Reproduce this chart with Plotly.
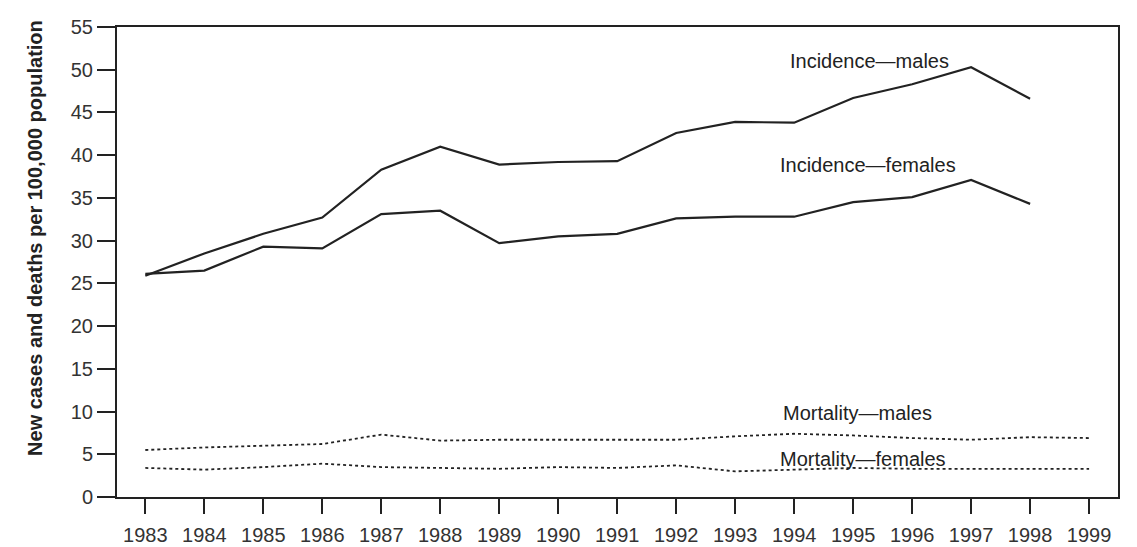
import plotly.graph_objects as go

# Annual rates per 100,000 population
years = list(range(1983, 2000))
incidence_males = [25.9, 28.5, 30.8, 32.7, 38.3, 41.0, 38.9, 39.2, 39.3, 42.6, 43.9, 43.8, 46.7, 48.3, 50.3, 46.6]
incidence_females = [26.1, 26.5, 29.3, 29.1, 33.1, 33.5, 29.7, 30.5, 30.8, 32.6, 32.8, 32.8, 34.5, 35.1, 37.1, 34.3]
mortality_males = [5.5, 5.8, 6.0, 6.2, 7.3, 6.6, 6.7, 6.7, 6.7, 6.7, 7.1, 7.4, 7.2, 6.9, 6.7, 7.0, 6.9]
mortality_females = [3.4, 3.2, 3.5, 3.9, 3.5, 3.4, 3.3, 3.5, 3.4, 3.7, 3.0, 3.2, 3.4, 3.3, 3.3, 3.3, 3.3]

series_labels = ["Incidence\u2014males", "Incidence\u2014females",
                 "Mortality\u2014males", "Mortality\u2014females"]
y_ticks = list(range(0, 56, 5))

FONT = "Arial, Liberation Sans, sans-serif"
INK = "#222222"

fig = go.Figure()
fig.add_trace(go.Scatter(x=years[:len(incidence_males)], y=incidence_males, mode="lines",
                         line=dict(color=INK, width=2.2), name=series_labels[0]))
fig.add_trace(go.Scatter(x=years[:len(incidence_females)], y=incidence_females, mode="lines",
                         line=dict(color=INK, width=2.2), name=series_labels[1]))
fig.add_trace(go.Scatter(x=years, y=mortality_males, mode="lines",
                         line=dict(color=INK, width=1.8, dash="dot"), name=series_labels[2]))
fig.add_trace(go.Scatter(x=years, y=mortality_females, mode="lines",
                         line=dict(color=INK, width=1.8, dash="dot"), name=series_labels[3]))

# In-plot series labels
label_pos = [(1995.27, 51.0), (1995.25, 38.9), (1995.08, 9.8), (1995.17, 4.45)]
for text, (x, y) in zip(series_labels, label_pos):
    fig.add_annotation(x=x, y=y, text=text, showarrow=False, xref="x", yref="y",
                       font=dict(family=FONT, size=20, color=INK))

fig.add_annotation(xref="paper", yref="paper", x=-0.095, y=0.551,
                   text="New cases and deaths per 100,000 population",
                   textangle=-90, showarrow=False,
                   font=dict(family=FONT, size=20, color=INK, weight="bold"))

fig.update_layout(
    width=1137, height=547,
    margin=dict(l=117, r=19, t=27, b=50),
    paper_bgcolor="white", plot_bgcolor="white",
    showlegend=False,
    font=dict(family=FONT, size=20, color=INK),
)
fig.update_xaxes(
    range=[1982.52, 1999.49], tickvals=years, ticktext=[str(y) for y in years],
    showgrid=False, zeroline=False, automargin=False,
    showline=True, linecolor=INK, linewidth=2, mirror=True,
    ticks="outside", ticklen=15, tickwidth=1.5, tickcolor=INK,
    ticklabelstandoff=4,
    tickfont=dict(family=FONT, size=20, color="#333333"),
)
fig.update_yaxes(
    range=[0, 55], tickvals=y_ticks,
    showgrid=False, zeroline=False, automargin=False,
    showline=True, linecolor=INK, linewidth=2, mirror=True,
    ticks="outside", ticklen=18, tickwidth=1.5, tickcolor=INK,
    tickfont=dict(family=FONT, size=20, color="#333333"),
)

fig.write_html("out.html")
